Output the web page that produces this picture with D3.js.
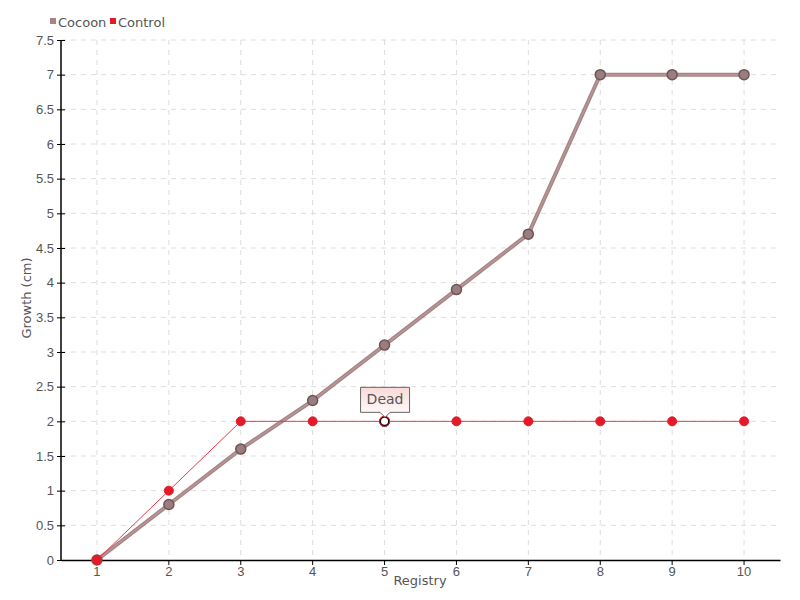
<!DOCTYPE html>
<html>
<head>
<meta charset="utf-8">
<script src="https://cdn.jsdelivr.net/npm/d3@7"></script>
<style>
  body { margin: 0; background: #fff; }
  svg { font-family: "DejaVu Sans", sans-serif; }
  .grid line { stroke: #ddd; stroke-dasharray: 5,5; }
</style>
</head>
<body>
<div id="container"></div>
<script>
// chart values
var registry = ["1", "2", "3", "4", "5", "6", "7", "8", "9", "10"];
var cocoon = [0, 0.8, 1.6, 2.3, 3.1, 3.9, 4.7, 7, 7, 7];
var control = [0, 1, 2, 2, 2, 2, 2, 2, 2, 2];
var yTicks = [0, 0.5, 1, 1.5, 2, 2.5, 3, 3.5, 4, 4.5, 5, 5.5, 6, 6.5, 7, 7.5];
var seriesNames = ["Cocoon", "Control"];
var tipIndex = 4;
var tipText = "Dead";

var width = 800, height = 600;
var margin = {top: 40, right: 20, bottom: 40, left: 61};

var svg = d3.select("#container").append("svg")
  .attr("width", width)
  .attr("height", height);

var x = d3.scaleBand()
  .domain(registry)
  .range([margin.left, width - margin.right]);

var y = d3.scaleLinear()
  .domain([0, 7.5])
  .range([height - margin.bottom, margin.top]);

var cx = function(i) { return x(registry[i]) + x.bandwidth() / 2; };

// grid
var grid = svg.append("g").attr("class", "grid");
grid.selectAll(".h").data(yTicks.slice(1)).enter().append("line")
  .attr("x1", margin.left).attr("x2", width - margin.right)
  .attr("y1", d => y(d)).attr("y2", d => y(d));
grid.selectAll(".v").data(registry).enter().append("line")
  .attr("x1", (d, i) => cx(i)).attr("x2", (d, i) => cx(i))
  .attr("y1", margin.top).attr("y2", height - margin.bottom);

// axes
var yAxis = svg.append("g")
  .attr("transform", "translate(" + margin.left + ",0)")
  .call(d3.axisLeft(y).tickValues(yTicks).tickFormat(d3.format("")).tickSize(4).tickPadding(3));
yAxis.selectAll(".tick line").attr("x2", 4).attr("x1", -4);
yAxis.select(".domain").attr("d", "M0," + y(7.5) + "V" + y(0));

var xAxis = svg.append("g")
  .attr("transform", "translate(0," + (height - margin.bottom) + ")")
  .call(d3.axisBottom(x).tickSize(5).tickPadding(2).tickSizeOuter(0));

svg.selectAll(".domain").attr("stroke", "#000").attr("stroke-width", 1.5);
svg.selectAll(".tick line").attr("stroke", "#000");
svg.selectAll(".tick text").attr("fill", "#555").attr("font-size", 13);

svg.append("text")
  .attr("x", 420).attr("y", 585)
  .attr("text-anchor", "middle")
  .attr("fill", "#555").attr("font-size", 13)
  .text("Registry");

svg.append("text")
  .attr("transform", "translate(31,298) rotate(-90)")
  .attr("text-anchor", "middle")
  .attr("fill", "#555").attr("font-size", 13)
  .text("Growth (cm)");

var line = d3.line()
  .x((d, i) => cx(i))
  .y(d => y(d));

// Cocoon series
svg.append("path").datum(cocoon)
  .attr("d", line)
  .attr("fill", "none")
  .attr("stroke", "#a58486")
  .attr("stroke-width", 4);
svg.append("path").datum(cocoon)
  .attr("d", line)
  .attr("fill", "none")
  .attr("stroke", "#b89597")
  .attr("stroke-width", 1.5);
svg.selectAll(".cocoon").data(cocoon).enter().append("circle")
  .attr("cx", (d, i) => cx(i)).attr("cy", d => y(d))
  .attr("r", 5)
  .attr("fill", "#9b7d80")
  .attr("stroke", "#6d5557")
  .attr("stroke-width", 1.5);

// Control series
svg.append("path").datum(control)
  .attr("d", line)
  .attr("fill", "none")
  .attr("stroke", "#ee3a48")
  .attr("stroke-width", 1);
svg.selectAll(".control").data(control).enter().append("circle")
  .attr("cx", (d, i) => cx(i)).attr("cy", d => y(d))
  .attr("r", 4.5)
  .attr("fill", (d, i) => i === tipIndex ? "#fff" : "#e41a28")
  .attr("stroke", (d, i) => i === tipIndex ? "#000" : "#e41a28")
  .attr("stroke-width", (d, i) => i === tipIndex ? 2 : 1);
// red halo on selected point
svg.append("circle")
  .attr("cx", cx(tipIndex)).attr("cy", y(control[tipIndex]))
  .attr("r", 5).attr("fill", "none").attr("stroke", "#e41a28").attr("stroke-width", 1);

// tooltip
var defs = svg.append("defs");
var grad = defs.append("linearGradient").attr("id", "tipgrad")
  .attr("x1", 0).attr("y1", 0).attr("x2", 0).attr("y2", 1);
grad.append("stop").attr("offset", "0%").attr("stop-color", "#fbd9d9");
grad.append("stop").attr("offset", "100%").attr("stop-color", "#fff");

var tx = cx(tipIndex), ty = y(control[tipIndex]) - 7;
var tw = 49, th = 25;
var tl = tx - 24, tt = ty - th - 2;
svg.append("path")
  .attr("d", "M" + tl + "," + tt + "h" + tw + "v" + th + "h" + (-(tw / 2) + 5) +
    "l-5,5l-5,-5H" + tl + "Z")
  .attr("fill", "url(#tipgrad)")
  .attr("stroke", "#666")
  .attr("stroke-width", 1);
svg.append("text")
  .attr("x", tl + tw / 2).attr("y", tt + 17)
  .attr("text-anchor", "middle")
  .attr("fill", "#555").attr("font-size", 14)
  .text(tipText);

// legend
var legendColors = ["#a58486", "#e41a28"];
var legendX = [50, 110];
var legend = svg.selectAll(".legend").data(seriesNames).enter().append("g")
  .attr("transform", (d, i) => "translate(" + legendX[i] + ",22)");
legend.append("rect")
  .attr("x", 0).attr("y", -4).attr("width", 6).attr("height", 6)
  .attr("fill", (d, i) => legendColors[i]);
legend.append("text")
  .attr("x", 8).attr("y", 5)
  .attr("fill", "#555").attr("font-size", 13)
  .text(d => d);
</script>
</body>
</html>
